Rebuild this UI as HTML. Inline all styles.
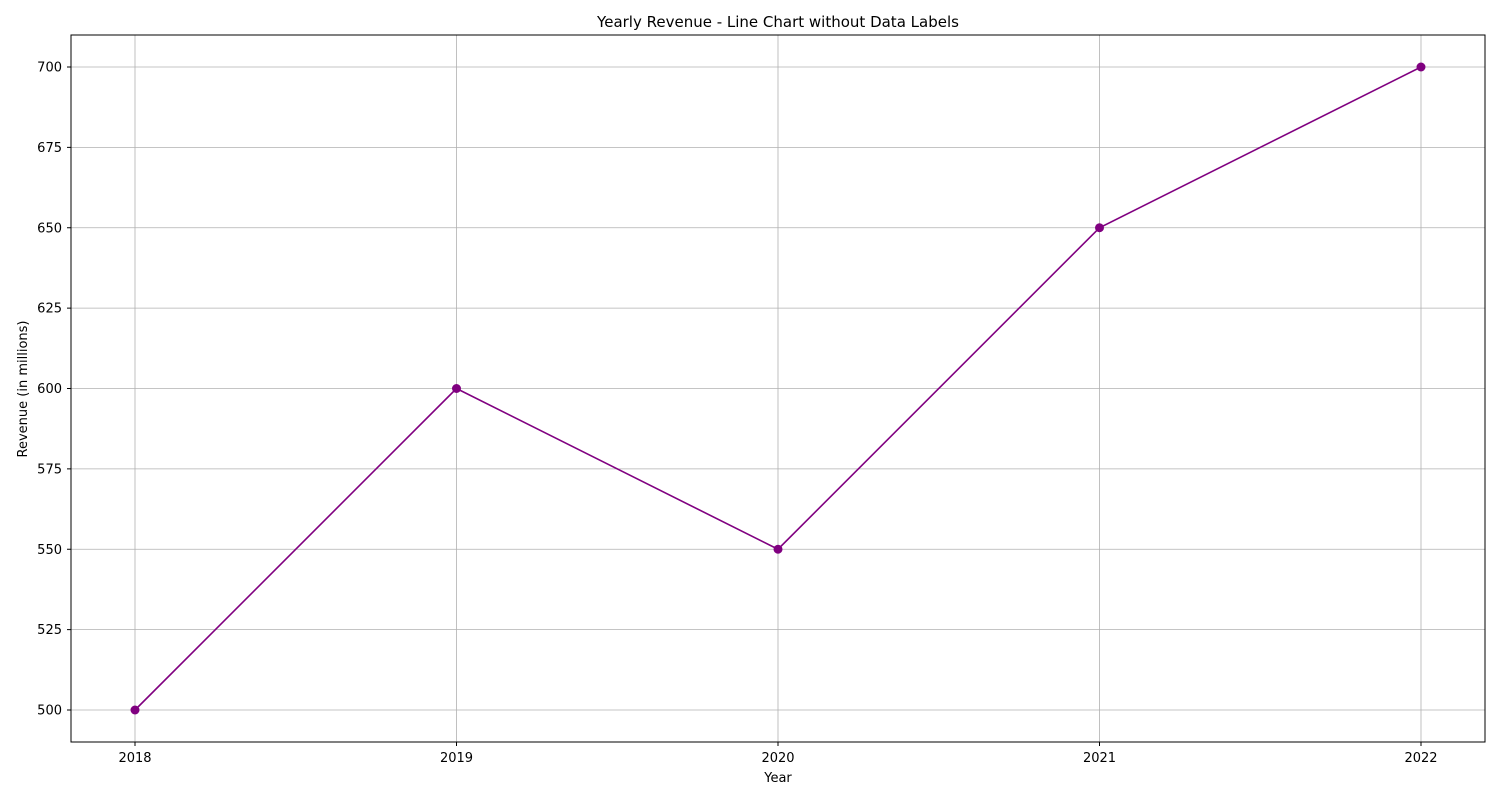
<!DOCTYPE html>
<html><head><meta charset="utf-8"><style>
body{margin:0;background:#fff;}
svg{display:block;font-family:"DejaVu Sans","Liberation Sans",sans-serif;}
</style></head><body>
<svg id="chart" width="1500" height="800">
<rect width="1500" height="800" fill="#fff"/>
<g id="grid"></g><g id="ticks"></g><g id="series"></g>
<rect x="71" y="35" width="1414" height="707" fill="none" stroke="#000" stroke-width="1"/>
<text x="778" y="27" font-size="15" text-anchor="middle">Yearly Revenue - Line Chart without Data Labels</text>
<text x="778" y="782" font-size="13" text-anchor="middle">Year</text>
<text x="27" y="389" font-size="13" text-anchor="middle" transform="rotate(-90 27 389)">Revenue (in millions)</text>
</svg>
<script>
const years = [2018, 2019, 2020, 2021, 2022];
const revenue = [500, 600, 550, 650, 700];
const yTicks = [500, 525, 550, 575, 600, 625, 650, 675, 700];
const NS = "http://www.w3.org/2000/svg";
function xScale(v){ return 135 + (v - 2018) * 321.5; }
function yScale(v){ return 710 - (v - 500) * 3.215; }
function mk(tag, attrs, parent){ const e=document.createElementNS(NS,tag); for(const k in attrs) e.setAttribute(k,attrs[k]); parent.appendChild(e); return e; }
const grid=document.getElementById('grid'), ticks=document.getElementById('ticks'), series=document.getElementById('series');
years.forEach(y=>{
  const x=xScale(y);
  const g=mk('line',{x1:x,x2:x,y1:35,y2:742,stroke:'#b0b0b0','stroke-width':0.8},grid);
  
  
  mk('line',{x1:x,x2:x,y1:742,y2:746,stroke:'#000'},ticks);
  const t=mk('text',{x:x,y:762,'font-size':13,'text-anchor':'middle'},ticks);
  t.textContent=y;
  
  
});
yTicks.forEach(v=>{
  const y=yScale(v);
  const g=mk('line',{x1:71,x2:1485,y1:y,y2:y,stroke:'#b0b0b0','stroke-width':0.8},grid);
  
  
  mk('line',{x1:67,x2:71,y1:y,y2:y,stroke:'#000'},ticks);
  const t=mk('text',{x:62,y:y+4.5,'font-size':13,'text-anchor':'end'},ticks);
  t.textContent=v;
  
  
});
const pts=years.map((y,i)=>xScale(y)+','+yScale(revenue[i])).join(' ');
const line=mk('polyline',{points:pts,fill:'none',stroke:'purple','stroke-width':1.6},series);


years.forEach((y,i)=>{
  const c=mk('circle',{cx:xScale(y),cy:yScale(revenue[i]),r:4.5,fill:'purple'},series);
  
  
});
</script>
</body></html>
